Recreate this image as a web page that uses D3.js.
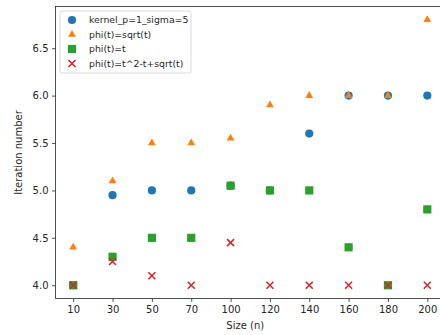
<!DOCTYPE html>
<html>
<head>
<meta charset="utf-8">
<script src="https://cdn.jsdelivr.net/npm/d3@7"></script>
<style>
  body { margin: 0; background: #fff; }
  svg text { font-family: "DejaVu Sans", sans-serif; fill: #262626; }
</style>
</head>
<body>
<div id="chart"></div>
<script>
let sizes = ["10", "30", "50", "70", "100", "120", "140", "160", "180", "200"];
let kernel_vals = [4.0, 4.95, 5.0, 5.0, 5.05, 5.0, 5.6, 6.0, 6.0, 6.0];
let sqrt_vals = [4.4, 5.1, 5.5, 5.5, 5.55, 5.9, 6.0, 6.0, 6.0, 6.8];
let lin_vals = [4.0, 4.3, 4.5, 4.5, 5.05, 5.0, 5.0, 4.4, 4.0, 4.8];
let mix_vals = [4.0, 4.25, 4.1, 4.0, 4.45, 4.0, 4.0, 4.0, 4.0, 4.0];
let series_names = ["kernel_p=1_sigma=5", "phi(t)=sqrt(t)", "phi(t)=t", "phi(t)=t^2-t+sqrt(t)"];
let y_ticks = [4.0, 4.5, 5.0, 5.5, 6.0, 6.5];

let palette = ["#1f77b4", "#ff7f0e", "#2ca02c", "#d62728"];

function main() {
    let w = 440, h = 335;
    let svg = d3.select("#chart").append("svg")
        .attr("width", w)
        .attr("height", h);

    let left = 55.5, right = 445, top = 6.5, bottom = 298.5;

    // index positions, matplotlib-like 5% margins
    let x = d3.scaleLinear().domain([-0.45, sizes.length - 1 + 0.45]).range([left, right]);
    let y = d3.scaleLinear().domain([3.86, 6.94]).range([bottom, top]);

    let series = [kernel_vals, sqrt_vals, lin_vals, mix_vals];
    let shapes = ["circle", "triangle", "square", "cross"];

    let drawMarker = function(g, shape, color) {
        if (shape == "circle") {
            g.append("circle").attr("r", 4.1).attr("fill", color);
        } else if (shape == "triangle") {
            g.append("path").attr("d", d3.symbol().type(d3.symbolTriangle2).size(44)()).attr("fill", color);
        } else if (shape == "square") {
            g.append("rect").attr("x", -4.1).attr("y", -4.1).attr("width", 8.2).attr("height", 8.2).attr("fill", color);
        } else {
            g.append("path").attr("d", "M-3.5,-3.5L3.5,3.5M-3.5,3.5L3.5,-3.5")
                .attr("stroke", color).attr("stroke-width", 1.6).attr("fill", "none");
        }
    };

    series.forEach((vals, i) => {
        let pts = svg.append("g").selectAll("g")
            .data(vals)
            .enter().append("g")
            .attr("transform", (d, j) => `translate(${x(j)}, ${y(d)})`);
        pts.each(function() { drawMarker(d3.select(this), shapes[i], palette[i]); });
    });

    // axes
    let xAxis = d3.axisBottom(x)
        .tickValues(d3.range(sizes.length))
        .tickFormat(i => sizes[i])
        .tickSize(3.5).tickPadding(3.5);
    let yAxis = d3.axisLeft(y)
        .tickValues(y_ticks)
        .tickFormat(d3.format(".1f"))
        .tickSize(3.5).tickPadding(3.5);

    let gx = svg.append("g").attr("transform", `translate(0, ${bottom})`).call(xAxis);
    let gy = svg.append("g").attr("transform", `translate(${left}, 0)`).call(yAxis);
    [gx, gy].forEach(g => {
        g.select(".domain").remove();
        g.selectAll("line").attr("stroke", "#262626").attr("stroke-width", 0.8);
        g.selectAll("text").attr("font-size", 10).attr("font-family", "DejaVu Sans").attr("fill", "#262626");
    });

    // frame
    svg.append("rect")
        .attr("x", left).attr("y", top)
        .attr("width", right - left).attr("height", bottom - top)
        .attr("fill", "none").attr("stroke", "#262626").attr("stroke-width", 0.8);

    svg.append("text")
        .attr("x", (left + right) / 2 - 5).attr("y", 329)
        .attr("text-anchor", "middle").attr("font-size", 10)
        .text("Size (n)");
    svg.append("text")
        .attr("transform", `translate(22, ${(top + bottom) / 2}) rotate(-90)`)
        .attr("text-anchor", "middle").attr("font-size", 10)
        .text("Iteration number");

    // legend
    let leg = svg.append("g").attr("transform", "translate(60, 11)");
    leg.append("rect")
        .attr("x", 0).attr("y", 0).attr("width", 131).attr("height", 62).attr("rx", 2)
        .attr("fill", "#fff").attr("fill-opacity", 0.8)
        .attr("stroke", "#d0d0d0").attr("stroke-width", 0.8);
    series_names.forEach((name, i) => {
        let row = leg.append("g").attr("transform", `translate(12, ${9 + i * 14.5})`);
        drawMarker(row, shapes[i], palette[i]);
        row.append("text").attr("x", 17).attr("y", 0).attr("dy", "0.35em")
            .attr("font-size", 9.3).text(name);
    });
}

main();
</script>
</body>
</html>
